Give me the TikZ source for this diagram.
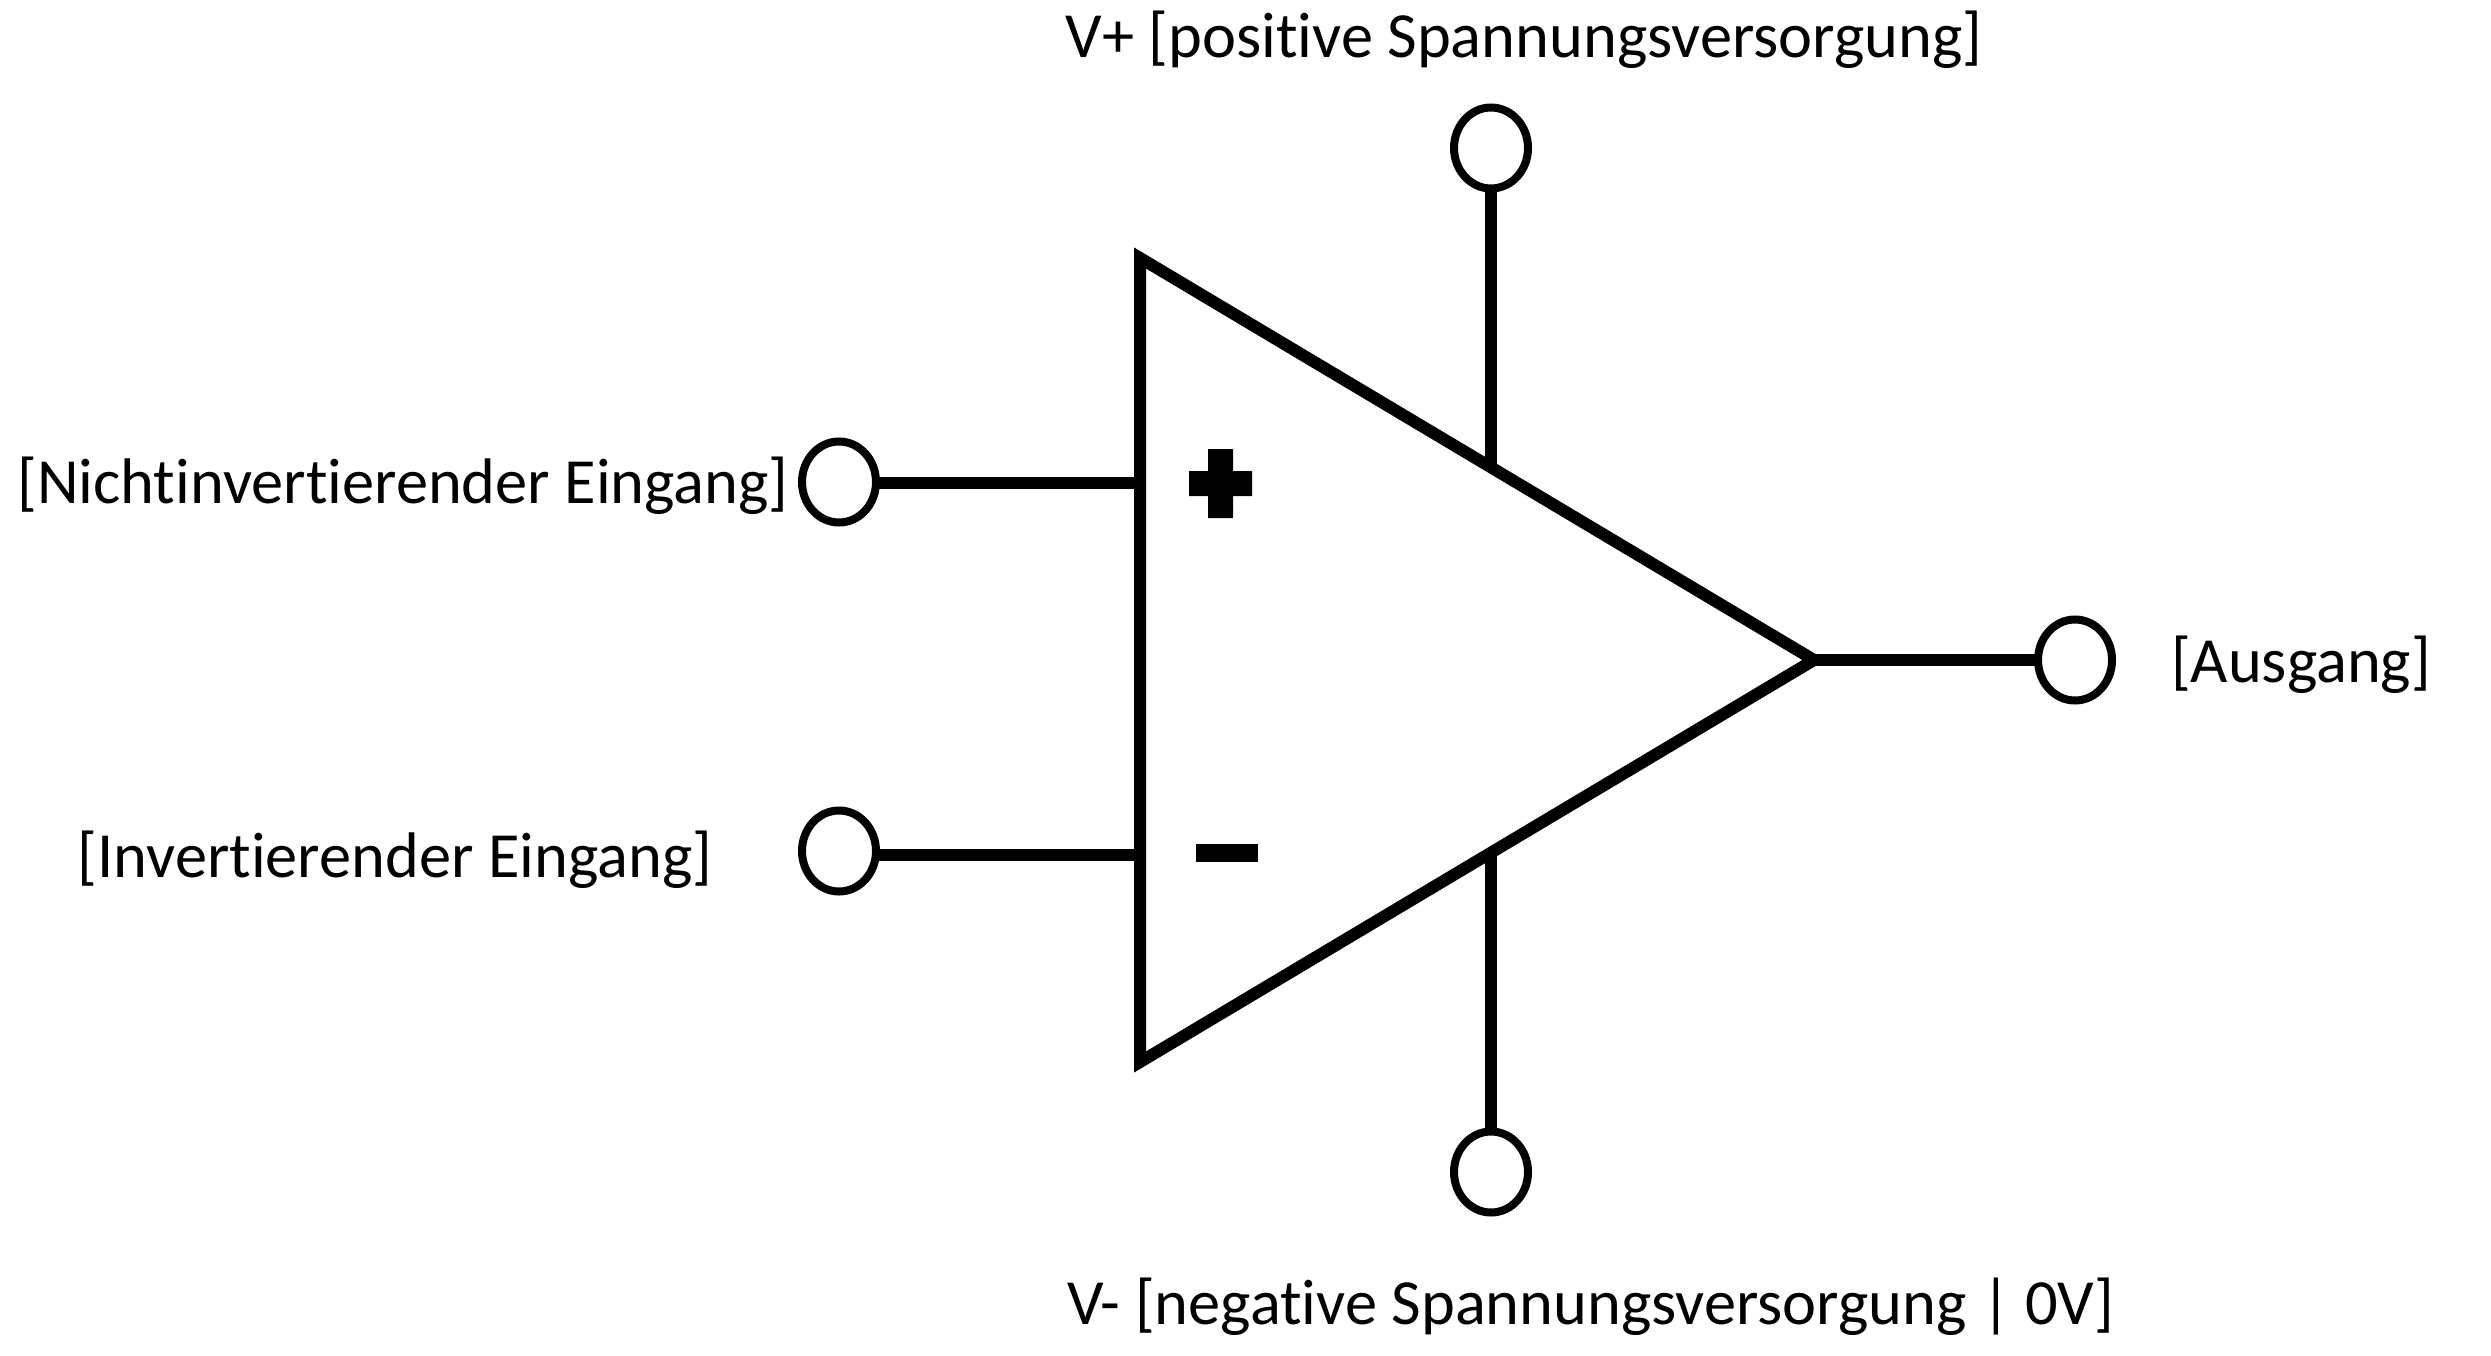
\documentclass[tikz,border=0pt]{standalone}
\usepackage{fontspec}
\setmainfont[Ligatures=NoCommon,RawFeature={-liga;-clig;-dlig}]{Carlito}
\usetikzlibrary{shapes.geometric}
\tikzset{
  pin/.style={ellipse,draw=black,fill=white,line width=8pt,minimum width=74pt,minimum height=81pt,inner sep=0pt,outer sep=0pt},
  wire/.style={draw=black,line width=12pt},
  lbl/.style={anchor=base,inner sep=0pt,font=\fontsize{64.4}{68}\selectfont},
  sign/.style={fill=black,draw=none}
}
\begin{document}
\begin{tikzpicture}[x=1pt,y=-1pt]
\useasboundingbox (0,0) rectangle (2491,1356);
\coordinate (tl) at (1140,258);
\coordinate (bl) at (1140,1062);
\coordinate (ap) at (1814,660);
\coordinate (jp) at (1140,483);
\coordinate (jm) at (1140,855);
\coordinate (jt) at (1491,467);
\coordinate (jb) at (1491,853);
\node[pin] (pp) at (839,482) {};
\node[pin] (pm) at (839,851) {};
\node[pin] (po) at (2075,660) {};
\node[pin] (pt) at (1491,148) {};
\node[pin] (pb) at (1491,1172) {};
\draw[wire] (pp.east |- jp) -- (jp);
\draw[wire] (pm.east |- jm) -- (jm);
\draw[wire] (ap) -- (po.west);
\draw[wire] (pt.south) -- (jt);
\draw[wire] (pb.north) -- (jb);
\draw[wire,miter limit=10] (tl) -- (ap) -- (bl) -- cycle;
\fill[sign] (1189,471) -- (1208,471) -- (1208,449) -- (1233,449) -- (1233,471) -- (1252,471) -- (1252,496) -- (1233,496) -- (1233,518) -- (1208,518) -- (1208,496) -- (1189,496) -- cycle;
\fill[sign] (1196,844) rectangle (1258,862);
\node[lbl] (lp) at (403,503) {[Nichtinvertierender Eingang]};
\node[lbl] (lm) at (395,877) {[Invertierender Eingang]};
\node[lbl] (lo) at (2301,682) {[Ausgang]};
\node[lbl] (lt) at (1524,58) {V+ [positive Spannungsversorgung]};
\node[lbl] (lb) at (1591,1324) {V- [negative Spannungsversorgung | 0V]};
\end{tikzpicture}
\end{document}
